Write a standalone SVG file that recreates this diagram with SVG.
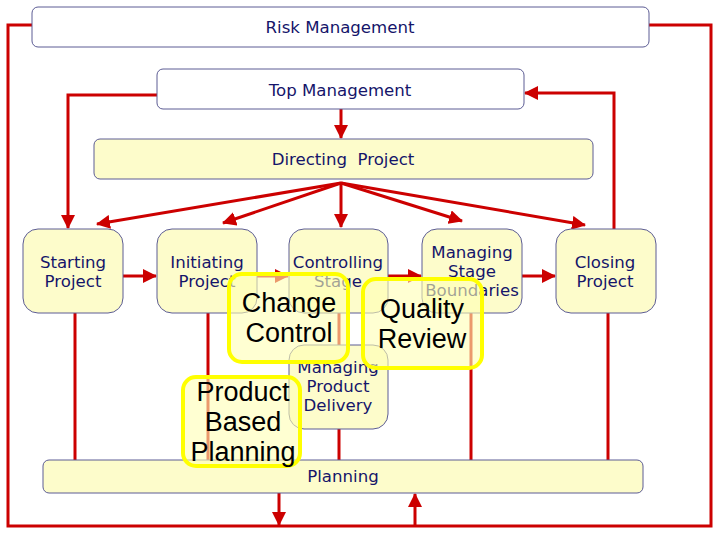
<svg xmlns="http://www.w3.org/2000/svg" width="717" height="535" viewBox="0 0 717 535">
<defs>
<style>
.box{fill:#ffffff;stroke:#5c5c94;stroke-width:1}
.node{fill:#fdfccb;stroke:#5c5c94;stroke-width:1}
.lbl{font-family:"DejaVu Sans",Verdana,sans-serif;font-size:16.6px;fill:#15156a;text-anchor:middle}
.wire{fill:none;stroke:#cc0000;stroke-width:3}
.arr{fill:none;stroke:#cc0000;stroke-width:3;marker-end:url(#ah)}
.ov{fill:#ffffb4;fill-opacity:0.6;stroke:#ffff00;stroke-width:4}
.ovt{font-family:"Liberation Sans",Arial,sans-serif;font-size:27px;fill:#000000;text-anchor:middle}
</style>
<marker id="ah" markerUnits="userSpaceOnUse" markerWidth="14" markerHeight="14" viewBox="0 0 14 14" refX="13" refY="7" orient="auto">
<path d="M0,0 L14,7 L0,14 z" fill="#cc0000"/>
</marker>
</defs>
<g id="connectors">
<polyline class="wire" points="32,25 8,25 8,526 711,526 711,25 649,25"/>
<line class="arr" x1="279" y1="493" x2="279" y2="525"/>
<line class="arr" x1="415" y1="526" x2="415" y2="494"/>
<polyline class="arr" points="157,95 68,95 68,228"/>
<line class="arr" x1="341" y1="109" x2="341" y2="138"/>
<polyline class="arr" points="614,229 614,93 525,93"/>
<line class="arr" x1="341" y1="183" x2="97" y2="224"/>
<line class="arr" x1="341" y1="183" x2="223" y2="223"/>
<line class="arr" x1="341" y1="183" x2="341" y2="227"/>
<line class="arr" x1="341" y1="183" x2="462" y2="221"/>
<line class="arr" x1="341" y1="183" x2="585" y2="225"/>
<line class="arr" x1="123" y1="276" x2="156" y2="276"/>
<line class="arr" x1="257" y1="276" x2="288" y2="276"/>
<line class="arr" x1="388" y1="276" x2="421" y2="276"/>
<line class="arr" x1="522" y1="276" x2="555" y2="276"/>
<line class="wire" x1="339" y1="313" x2="339" y2="345"/>
<line class="wire" x1="75" y1="313" x2="75" y2="460"/>
<line class="wire" x1="208" y1="313" x2="208" y2="460"/>
<line class="wire" x1="339" y1="429" x2="339" y2="460"/>
<line class="wire" x1="471" y1="313" x2="471" y2="460"/>
<line class="wire" x1="608" y1="313" x2="608" y2="460"/>
</g>
<g id="risk-management">
<rect class="box" x="32" y="7" width="617" height="40" rx="6"/>
<text class="lbl" x="340" y="33">Risk Management</text>
</g>
<g id="top-management">
<rect class="box" x="157" y="69" width="367" height="40" rx="6"/>
<text class="lbl" x="340" y="96">Top Management</text>
</g>
<g id="directing-project">
<rect class="node" x="94" y="139" width="499" height="40" rx="6"/>
<text class="lbl" x="343" y="165" xml:space="preserve">Directing  Project</text>
</g>
<g id="starting-project">
<rect class="node" x="23" y="229" width="100" height="84" rx="15"/>
<text class="lbl" x="73" y="268">Starting</text>
<text class="lbl" x="73" y="287">Project</text>
</g>
<g id="initiating-project">
<rect class="node" x="157" y="229" width="100" height="84" rx="15"/>
<text class="lbl" x="207" y="268">Initiating</text>
<text class="lbl" x="207" y="287">Project</text>
</g>
<g id="controlling-stage">
<rect class="node" x="289" y="229" width="99" height="84" rx="15"/>
<text class="lbl" x="338" y="268">Controlling</text>
<text class="lbl" x="338" y="287">Stage</text>
</g>
<g id="managing-stage-boundaries">
<rect class="node" x="422" y="229" width="100" height="84" rx="15"/>
<text class="lbl" x="472" y="258">Managing</text>
<text class="lbl" x="472" y="277">Stage</text>
<text class="lbl" x="472" y="296">Boundaries</text>
</g>
<g id="closing-project">
<rect class="node" x="556" y="229" width="100" height="84" rx="15"/>
<text class="lbl" x="605" y="268">Closing</text>
<text class="lbl" x="605" y="287">Project</text>
</g>
<g id="managing-product-delivery">
<rect class="node" x="289" y="345" width="99" height="84" rx="15"/>
<text class="lbl" x="338" y="373">Managing</text>
<text class="lbl" x="338" y="392">Product</text>
<text class="lbl" x="338" y="411">Delivery</text>
</g>
<g id="planning">
<rect class="node" x="43" y="460" width="600" height="33" rx="6"/>
<text class="lbl" x="343" y="482">Planning</text>
</g>
<g id="change-control">
<rect class="ov" x="229" y="274" width="119" height="88" rx="13"/>
<text class="ovt" x="289" y="312">Change</text>
<text class="ovt" x="289" y="342">Control</text>
</g>
<g id="quality-review">
<rect class="ov" x="363" y="279" width="119" height="89" rx="13"/>
<text class="ovt" x="422" y="318">Quality</text>
<text class="ovt" x="422" y="348">Review</text>
</g>
<g id="product-based-planning">
<rect class="ov" x="183" y="377" width="117" height="89" rx="13"/>
<text class="ovt" x="243" y="401">Product</text>
<text class="ovt" x="243" y="431">Based</text>
<text class="ovt" x="243" y="461">Planning</text>
</g>
</svg>
